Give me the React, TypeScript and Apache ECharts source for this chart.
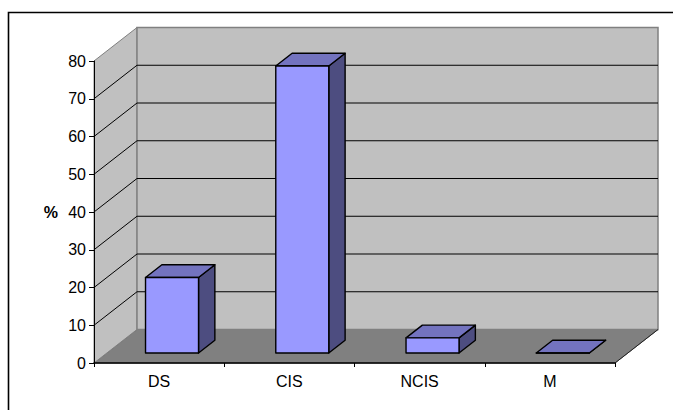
import React, { useEffect, useRef } from "react";
import * as echarts from "echarts";

const categories = ["DS", "CIS", "NCIS", "M"];
const percentValues = [20, 76, 4, 0];
const yTicks = [10, 20, 30, 40, 50, 60, 70];
const yMax = 80;

const FONT = "'Liberation Sans', Arial, sans-serif";
const DEPTH_X = 43;
const DEPTH_Y = 33.5;
const BAR_FRONT_Z = 0.3;
const BAR_BACK_Z = 0.68;
const BAR_RATIO = 53 / 130.25;

export default function App() {
  const ref = useRef<HTMLDivElement>(null);
  useEffect(() => {
    document.body.style.margin = "0";
    document.body.style.overflow = "hidden";
    const chart = echarts.init(ref.current!, undefined, { renderer: "svg" });
    const renderWalls = (params: any) => {
      const c = params.coordSys;
      const l = c.x, r = c.x + c.width, t = c.y, b = c.y + c.height;
      const pts = (p: number[][]) => ({ points: p });
      return {
        type: "group",
        children: [
          {
            type: "polygon",
            shape: pts([[l, b], [l + DEPTH_X, b - DEPTH_Y], [r + DEPTH_X, b - DEPTH_Y], [r, b]]),
            style: { fill: "#808080", stroke: "#666666", lineWidth: 1 },
          },
          {
            type: "polygon",
            shape: pts([[l, b], [l, t], [l + DEPTH_X, t - DEPTH_Y], [l + DEPTH_X, b - DEPTH_Y]]),
            style: { fill: "#c0c0c0", stroke: "#808080", lineWidth: 1 },
          },
          {
            type: "polygon",
            shape: pts([[l + DEPTH_X, b - DEPTH_Y], [l + DEPTH_X, t - DEPTH_Y], [r + DEPTH_X, t - DEPTH_Y], [r + DEPTH_X, b - DEPTH_Y]]),
            style: { fill: "#c0c0c0", stroke: "#808080", lineWidth: 1.5 },
          },
          {
            type: "line",
            shape: { x1: r, y1: b, x2: r + DEPTH_X, y2: b - DEPTH_Y },
            style: { stroke: "#222222", lineWidth: 1 },
          },
        ],
      };
    };
    const renderGrid = (params: any, api: any) => {
      const c = params.coordSys;
      const y = api.coord([0, api.value(0)])[1];
      const l = c.x, r = c.x + c.width;
      return {
        type: "polyline",
        shape: { points: [[l, y], [l + DEPTH_X, y - DEPTH_Y], [r + DEPTH_X, y - DEPTH_Y]] },
        style: { fill: "none", stroke: "#000000", lineWidth: 1 },
      };
    };
    const renderBar = (params: any, api: any) => {
      const top = api.coord([api.value(0), api.value(1)]);
      const base = api.coord([api.value(0), 0]);
      const w = api.size([1, 0])[0] * BAR_RATIO;
      const x0 = top[0] - w / 2 + DEPTH_X * BAR_FRONT_Z;
      const x1 = x0 + w;
      const yt = top[1] - DEPTH_Y * BAR_FRONT_Z;
      const yb = base[1] - DEPTH_Y * BAR_FRONT_Z;
      const dx = DEPTH_X * (BAR_BACK_Z - BAR_FRONT_Z);
      const dy = DEPTH_Y * (BAR_BACK_Z - BAR_FRONT_Z);
      const line = { stroke: "#000000", lineWidth: 1.4, lineJoin: "round" };
      return {
        type: "group",
        children: [
          {
            type: "polygon",
            shape: { points: [[x1, yt], [x1 + dx, yt - dy], [x1 + dx, yb - dy], [x1, yb]] },
            style: { fill: "#4d4d80", ...line },
          },
          {
            type: "polygon",
            shape: { points: [[x0, yt], [x0 + dx, yt - dy], [x1 + dx, yt - dy], [x1, yt]] },
            style: { fill: "#7373bf", ...line },
          },
          {
            type: "polygon",
            shape: { points: [[x0, yt], [x1, yt], [x1, yb], [x0, yb]] },
            style: { fill: "#9999ff", ...line },
          },
        ],
      };
    };
    chart.setOption({
      animation: false,
      backgroundColor: "#ffffff",
      grid: { left: 94, right: 58, top: 61, bottom: 47 },
      graphic: [
        {
          type: "polyline",
          shape: { points: [[8.5, 420], [8.5, 12.5], [690, 12.5]] },
          style: { fill: "none", stroke: "#000000", lineWidth: 1.6 },
        },
      ],
      xAxis: {
        type: "category",
        data: categories,
        z: 5,
        axisLine: { lineStyle: { color: "#000000", width: 1.5 } },
        axisTick: { show: true, length: 4, alignWithLabel: false, lineStyle: { color: "#000000" } },
        axisLabel: { color: "#000000", fontFamily: FONT, fontSize: 16, margin: 10 },
      },
      yAxis: {
        type: "value",
        min: 0,
        max: yMax,
        interval: 10,
        z: 5,
        name: "%",
        nameLocation: "middle",
        nameRotate: 0,
        nameGap: 36,
        nameTextStyle: { color: "#000000", fontFamily: FONT, fontSize: 16, fontWeight: "bold" },
        axisLine: { show: true, lineStyle: { color: "#000000", width: 1 } },
        axisTick: { show: true, length: 5, lineStyle: { color: "#000000" } },
        axisLabel: { color: "#000000", fontFamily: FONT, fontSize: 16, margin: 8 },
        splitLine: { show: false },
      },
      series: [
        { type: "custom", z: 1, silent: true, data: [0], renderItem: renderWalls, encode: { x: [], y: [] } },
        {
          type: "custom",
          z: 2,
          silent: true,
          data: yTicks.map((t) => [t]),
          renderItem: renderGrid,
          encode: { y: 0 },
        },
        {
          type: "custom",
          z: 3,
          silent: true,
          data: categories.map((_, i) => [i, percentValues[i]]),
          renderItem: renderBar,
          encode: { x: 0, y: 1 },
        },
      ],
    });
    return () => chart.dispose();
  }, []);
  return <div ref={ref} style={{ width: 673, height: 410 }} />;
}
